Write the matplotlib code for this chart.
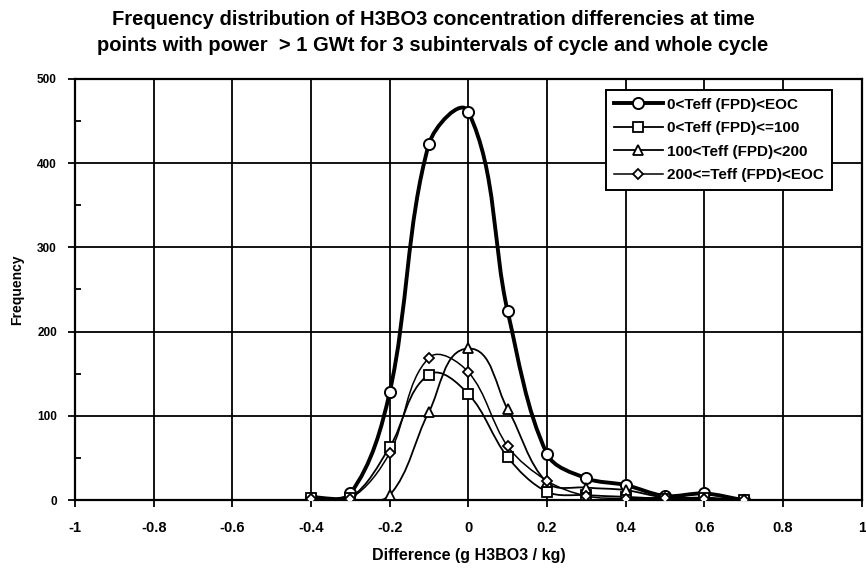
import matplotlib
matplotlib.use('Agg')
import matplotlib.pyplot as plt
from matplotlib.path import Path
from matplotlib.patches import PathPatch
from matplotlib.lines import Line2D
import numpy as np

plt.rcParams['font.family'] = ['Liberation Sans', 'DejaVu Sans']
plt.rcParams['font.weight'] = 'bold'

# data
diff = [-0.4, -0.3, -0.2, -0.1, 0.0, 0.1, 0.2, 0.3, 0.4, 0.5, 0.6, 0.7]
whole = [3, 8, 128, 423, 461, 224, 55, 26, 18, 5, 8, 0]
sub1 = [3, 3, 63, 149, 126, 51, 10, 6, 4, 2, 3, 0]
sub2 = [0, 0, 6, 105, 180, 108, 21, 15, 12, 3, 2, 0]
sub3 = [1, 2, 56, 169, 152, 64, 23, 5, 2, 3, 2, 0]
labels = ['0<Teff (FPD)<EOC', '0<Teff (FPD)<=100',
          '100<Teff (FPD)<200', '200<=Teff (FPD)<EOC']


def smooth_path(ax, x, y):
    # spreadsheet style smoothing: bezier segments, handles along the
    # neighbour direction, length = 1/3 of the segment, worked out in pixels
    pts = ax.transData.transform(np.column_stack([x, y]).astype(float))
    n = len(pts)
    tang = []
    for i in range(n):
        a = pts[max(i - 1, 0)]
        b = pts[min(i + 1, n - 1)]
        d = b - a
        tang.append(d / np.hypot(*d))
    verts = [pts[0]]
    codes = [Path.MOVETO]
    for i in range(n - 1):
        seg = np.hypot(*(pts[i + 1] - pts[i])) / 3.0
        verts += [pts[i] + tang[i] * seg, pts[i + 1] - tang[i + 1] * seg, pts[i + 1]]
        codes += [Path.CURVE4] * 3
    verts = ax.transData.inverted().transform(np.array(verts))
    return Path(verts, codes)


fig = plt.figure(figsize=(8.66, 5.71), dpi=100)
ax = fig.add_axes([0.0866, 0.124, 0.9084, 0.738])
ax.set_xlim(-1, 1)
ax.set_ylim(0, 500)

series = [
    (whole, 'o', 2.8, 8.0, 1.4),
    (sub1, 's', 1.3, 7.0, 1.3),
    (sub2, '^', 1.3, 7.5, 1.3),
    (sub3, 'D', 1.1, 5.5, 1.3),
]

handles = []
for (vals, mk, lw, ms, mew), lab in zip(series, labels):
    patch = PathPatch(smooth_path(ax, diff, vals), facecolor='none',
                      edgecolor='black', lw=lw, zorder=3)
    ax.add_patch(patch)
    ax.plot(diff, vals, linestyle='none', marker=mk, markersize=ms,
            markerfacecolor='white', markeredgecolor='black',
            markeredgewidth=mew, zorder=4)
    handles.append(Line2D([], [], color='black', lw=lw, marker=mk,
                          markersize=ms, markerfacecolor='white',
                          markeredgecolor='black', markeredgewidth=mew))

ax.set_xticks(np.arange(-1, 1.01, 0.2))
ax.set_xticklabels(['-1', '-0.8', '-0.6', '-0.4', '-0.2', '0',
                    '0.2', '0.4', '0.6', '0.8', '1'])
ax.set_yticks(np.arange(0, 501, 100))
ax.set_yticks(np.arange(50, 500, 100), minor=True)
ax.grid(True, which='major', color='black', lw=1.3)
ax.tick_params(which='major', direction='out', length=5, width=1.3)
ax.tick_params(axis='x', labelsize=10.5, pad=10)
ax.tick_params(axis='y', labelsize=8.5, pad=8)
ax.tick_params(which='minor', axis='y', direction='in', length=4, width=1.3)
for s in ax.spines.values():
    s.set_linewidth(1.6)

ax.set_xlabel('Difference (g H3BO3 / kg)', fontsize=11.5, fontweight='bold',
              labelpad=9)
ax.set_ylabel('Frequency', fontsize=10, fontweight='bold', labelpad=9)

fig.text(0.5, 0.982,
         'Frequency distribution of H3BO3 concentration differencies at time\n'
         'points with power  > 1 GWt for 3 subintervals of cycle and whole cycle',
         ha='center', va='top', fontsize=14.5, fontweight='bold', linespacing=1.45)

leg = ax.legend(handles, labels, loc='upper right',
                bbox_to_anchor=(0.962, 0.973), fontsize=11, frameon=True,
                fancybox=False, edgecolor='black', framealpha=1,
                handlelength=3.2, borderpad=0.5, labelspacing=0.62,
                handletextpad=0.3, borderaxespad=0)
leg.get_frame().set_linewidth(1.4)
leg.set_zorder(10)

fig.savefig('out.png', dpi=100)
